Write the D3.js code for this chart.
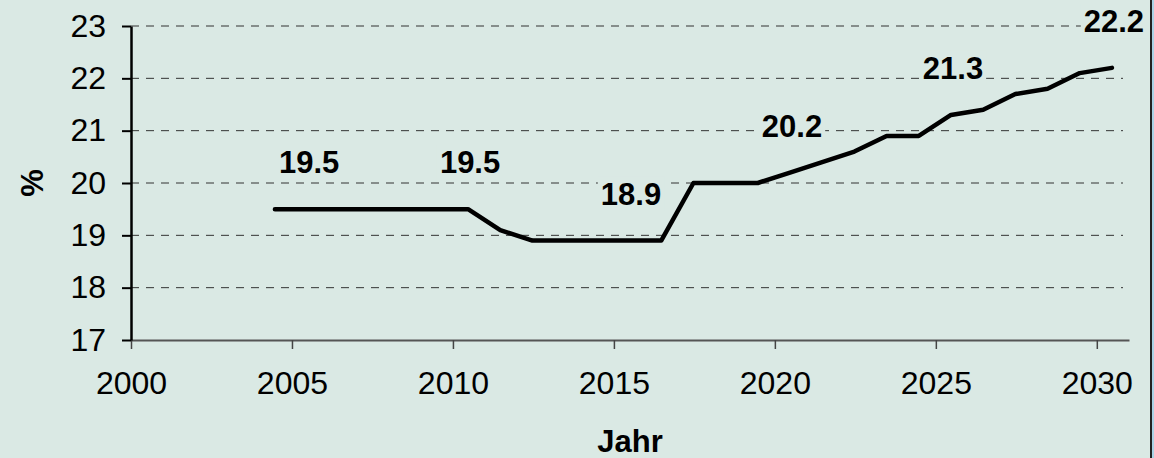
<!DOCTYPE html>
<html>
<head>
<meta charset="utf-8">
<script src="https://cdn.jsdelivr.net/npm/d3@7"></script>
<style>
  body { margin: 0; background: #dae9e4; }
  svg { display: block; font-family: "Liberation Sans", Arial, sans-serif; }
</style>
</head>
<body>
<script>
// values
var years  = [2004, 2005, 2006, 2007, 2008, 2009, 2010, 2011, 2012, 2013, 2014, 2015, 2016, 2017,
              2018, 2019, 2020, 2021, 2022, 2023, 2024, 2025, 2026, 2027, 2028, 2029, 2030];
var values = [19.5, 19.5, 19.5, 19.5, 19.5, 19.5, 19.5, 19.1, 18.9, 18.9, 18.9, 18.9, 18.9, 20.0,
              20.0, 20.0, 20.2, 20.4, 20.6, 20.9, 20.9, 21.3, 21.4, 21.7, 21.8, 22.1, 22.2];
var labelYears = [2005, 2010, 2015, 2020, 2025, 2030];
var xTicks = [2000, 2005, 2010, 2015, 2020, 2025, 2030];
var yTicks = [17, 18, 19, 20, 21, 22, 23];

var width = 1154, height = 458;
var bg = '#dae9e4';
var font = '"Liberation Sans", Arial, sans-serif';

var svg = d3.select('body').append('svg')
    .attr('width', width)
    .attr('height', height);

svg.append('rect').attr('width', width).attr('height', height).attr('fill', bg);

// right frame edge
svg.append('rect').attr('x', 1152).attr('y', 0).attr('width', 2).attr('height', height).attr('fill', '#a9d3e6');
svg.append('line').attr('x1', 1151).attr('x2', 1151).attr('y1', 0).attr('y2', height)
   .attr('stroke', '#222').attr('stroke-width', 2);

var x = d3.scaleLinear().domain([2000, 2031]).range([131, 1129]);
var y = d3.scaleLinear().domain([17, 23]).range([340, 26]);

// points sit in the middle of each year
var off = 0.47;

// dashed gridlines
svg.append('g')
  .selectAll('line')
  .data(yTicks.slice(1))
  .enter()
  .append('line')
  .attr('x1', x(2000))
  .attr('x2', 1123)
  .attr('y1', d => y(d))
  .attr('y2', d => y(d))
  .attr('stroke', '#333')
  .attr('stroke-width', 1)
  .attr('stroke-dasharray', '8,7');

// x axis
var xAxis = svg.append('g')
  .attr('transform', 'translate(0,' + y(17) + ')')
  .call(d3.axisBottom(x).tickValues(xTicks).tickFormat(d3.format('d')).tickSize(9).tickSizeOuter(0).tickPadding(22));
xAxis.select('.domain').attr('stroke', '#555').attr('stroke-width', 2);
xAxis.selectAll('.tick line').attr('stroke', '#444').attr('stroke-width', 1.5);
xAxis.selectAll('text').attr('font-size', 32).attr('font-family', font).attr('fill', '#000');

// y axis
var yAxis = svg.append('g')
  .attr('transform', 'translate(' + x(2000) + ',0)')
  .call(d3.axisLeft(y).tickValues(yTicks).tickFormat(d3.format('d')).tickSize(9).tickSizeOuter(0).tickPadding(16));
yAxis.select('.domain').attr('stroke', '#000').attr('stroke-width', 2.5);
yAxis.selectAll('.tick line').attr('stroke', '#000').attr('stroke-width', 2);
yAxis.selectAll('text').attr('font-size', 32).attr('font-family', font).attr('fill', '#000');

// the series line
var line = d3.line()
  .x((d, i) => x(years[i] + off))
  .y(d => y(d));

svg.append('path')
  .datum(values)
  .attr('d', line)
  .attr('fill', 'none')
  .attr('stroke', '#000')
  .attr('stroke-width', 4.5)
  .attr('stroke-linejoin', 'round')
  .attr('stroke-linecap', 'round');

// value labels with a background patch over the gridlines
var labels = svg.append('g').selectAll('g')
  .data(labelYears)
  .enter()
  .append('g');

labels.append('text')
  .attr('x', d => x(d + off) + 2)
  .attr('y', d => y(values[years.indexOf(d)]) - 36)
  .attr('text-anchor', 'middle')
  .attr('font-size', 31)
  .attr('font-weight', 'bold')
  .text(d => values[years.indexOf(d)].toFixed(1));

labels.each(function() {
  var g = d3.select(this);
  var bb = g.select('text').node().getBBox();
  g.insert('rect', 'text')
    .attr('x', bb.x - 3).attr('y', bb.y)
    .attr('width', bb.width + 6).attr('height', bb.height)
    .attr('fill', bg);
});

// axis titles
svg.append('text')
  .attr('x', x(2015.5))
  .attr('y', 452)
  .attr('text-anchor', 'middle')
  .attr('font-size', 31)
  .attr('font-weight', 'bold')
  .text('Jahr');

svg.append('text')
  .attr('transform', 'translate(43,' + y(20) + ') rotate(-90)')
  .attr('text-anchor', 'middle')
  .attr('font-size', 31)
  .attr('font-weight', 'bold')
  .text('%');
</script>
</body>
</html>
